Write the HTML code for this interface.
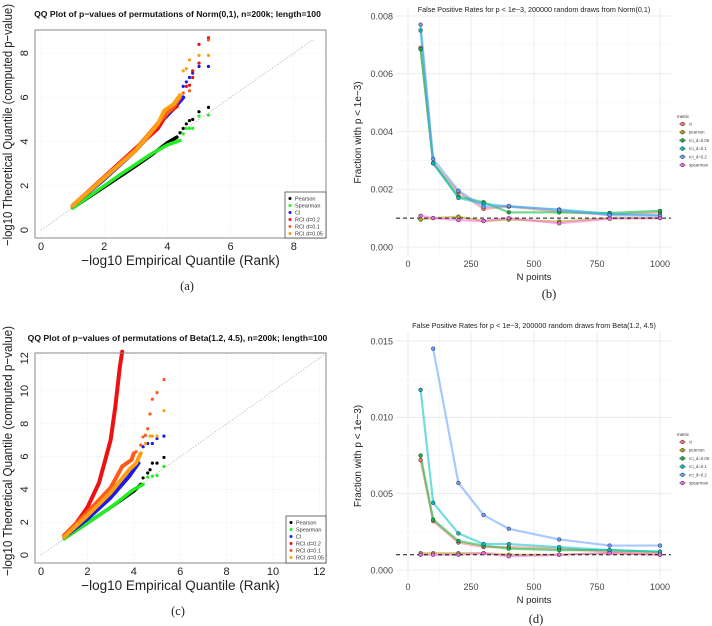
<!DOCTYPE html>
<html><head><meta charset="utf-8"><style>
body{margin:0;background:#fff;width:712px;height:626px;overflow:hidden}
svg{display:block;font-family:"Liberation Sans",sans-serif}
</style></head><body>
<svg id="fig" width="712" height="626" xmlns="http://www.w3.org/2000/svg"></svg>
<script>
// ---- QQ data (panel a) ----
const qqNames = ["Pearson","Spearman","CI","RCI d=0.2","RCI d=0.1","RCI d=0.05"];
const qqColors = ["#000000","#22ee22","#1a1aee","#ee1111","#ff5a1a","#ffa010"];
const aCurves = [
 [[1,1],[2,1.95],[3,2.9],[3.5,3.4],[4,3.95],[4.3,4.2]],
 [[1,1],[2.5,2.5],[3.5,3.45],[4,3.85],[4.4,4.05]],
 [[1,1.1],[2,2.3],[3,3.6],[3.8,4.9],[4.2,5.5],[4.5,6.0]],
 [[1,1.1],[2,2.4],[3,3.7],[3.7,4.6],[4.0,5.3],[4.3,5.6]],
 [[1,1.1],[2,2.38],[3,3.65],[3.8,5.0],[4.2,5.6],[4.4,6.0]],
 [[1,1.1],[2,2.35],[3,3.6],[3.7,4.8],[3.9,5.4],[4.2,5.7],[4.4,6.1]]
];
const aTails = [
 [[4.4,4.4],[4.5,4.6],[4.6,4.8],[4.7,4.95],[4.8,5.0],[5.0,5.35],[5.3,5.55]],
 [[4.5,4.35],[4.6,4.6],[4.7,4.6],[4.8,4.6],[5.0,5.15],[5.3,5.2]],
 [[4.5,6.5],[4.6,6.7],[4.7,6.9],[4.8,7.1],[5.0,7.4],[5.3,7.4]],
 [[4.6,6.5],[4.7,6.55],[4.8,6.9],[4.8,7.2],[5.0,7.55],[5.0,8.4],[5.3,8.7]],
 [[4.5,6.2],[4.7,6.3],[5.3,8.6]],
 [[4.5,7.2],[4.6,7.3],[4.7,7.7],[5.0,7.9],[5.3,7.9]]
];
// ---- QQ data (panel c) ----
const cCurves = [
 [[1,1],[2,1.95],[3,2.9],[3.7,3.6],[4,3.9],[4.3,4.3]],
 [[1,1],[3,2.9],[4,4.0],[4.4,4.3]],
 [[1,1.1],[2,2.2],[3,3.5],[3.8,4.8],[4.2,5.6]],
 [[1,1.2],[1.5,1.9],[2,2.9],[2.5,4.4],[3,7],[3.2,9],[3.4,11.5],[3.5,12.4]],
 [[1,1.2],[2,2.6],[3,4.1],[3.5,5.4],[3.9,5.8],[4.0,6.2]],
 [[1,1.1],[2,2.4],[3,3.8],[3.8,5.2],[4.1,5.6],[4.3,6.2]]
];
const cTails = [
 [[4.4,4.7],[4.6,5.0],[4.7,5.2],[4.8,5.6],[5.0,5.6],[5.3,5.95]],
 [[4.6,4.75],[4.8,4.8],[5.0,4.85],[5.3,5.4]],
 [[4.4,6.6],[4.6,6.8],[4.8,6.8],[5.0,7.1],[5.3,7.25]],
 [],
 [[4.1,6.3],[4.3,6.7],[4.4,7.2],[4.5,7.3],[4.6,7.7],[4.7,8.6],[4.8,9.5],[5.0,9.9],[5.3,10.7]],
 [[4.5,6.8],[4.7,7.25],[4.8,7.25],[5.0,7.25],[5.3,8.8]]
];
// ---- FPR data ----
const nPoints = [50,100,200,300,400,600,800,1000];
const metrics = ["ci","pearson","rci_d=0.05","rci_d=0.1","rci_d=0.2","spearman"];
const mColors = ["#F8766D","#B79F00","#00BA38","#00BFC4","#619CFF","#F564E3"];
const bCi      = [0.0069,0.0029,0.0019,0.00132,0.0014,0.00122,0.00112,0.0012];
const bPearson = [0.00095,0.001,0.00105,0.0009,0.00095,0.00088,0.001,0.001];
const bR05     = [0.00685,0.0029,0.00175,0.00155,0.0012,0.0012,0.00118,0.00125];
const bR1      = [0.0075,0.0029,0.0017,0.0015,0.0014,0.0013,0.00115,0.0011];
const bR2      = [0.0077,0.00305,0.00195,0.0014,0.00142,0.00128,0.0011,0.00108];
const bSpear   = [0.00108,0.001,0.00093,0.0009,0.001,0.00082,0.00098,0.001];
const dCi      = [0.0072,0.0032,0.0018,0.0015,0.0015,0.0014,0.0012,0.0011];
const dPearson = [0.0011,0.0011,0.0011,0.0011,0.001,0.001,0.0011,0.001];
const dR05     = [0.0075,0.0033,0.0019,0.0016,0.0014,0.0013,0.0013,0.0012];
const dR1      = [0.0118,0.0044,0.0024,0.0017,0.0017,0.0015,0.0013,0.0012];
const dR2      = [null,0.0145,0.0057,0.0036,0.0027,0.002,0.0016,0.0016];
const dSpear   = [0.001,0.001,0.001,0.0011,0.0009,0.001,0.0011,0.001];
const bTicksY = [0,0.002,0.004,0.006,0.008];
const bTickLabY = ["0.000","0.002","0.004","0.006","0.008"];
const dTicksY = [0,0.005,0.01,0.015];
const dTickLabY = ["0.000","0.005","0.010","0.015"];
const xTicksN = [0,250,500,750,1000];

const NS="http://www.w3.org/2000/svg";
const svg=document.getElementById('fig');
function el(tag,attrs,parent,text){const e=document.createElementNS(NS,tag);for(const k in attrs)e.setAttribute(k,attrs[k]);if(text!==undefined)e.textContent=text;(parent||svg).appendChild(e);return e;}

function qqPanel(o){
 const g=el('g',{});
 
 
 const X=v=>o.x0+v*o.sx, Y=v=>o.y0-v*o.sy;
 el('rect',{x:o.bx0,y:o.by0,width:o.bx1-o.bx0,height:o.by1-o.by0,fill:'#fff'},g);
 for(let t=0;t<=o.xmax;t+=o.step){
  el('line',{x1:X(t),x2:X(t),y1:o.by0,y2:o.by1,stroke:'#ececec','stroke-width':0.6,'stroke-dasharray':'1,1'},g);
  const tl=el('text',{x:X(t),y:o.by1+12,'font-size':11,'text-anchor':'middle',fill:'#222'},g,String(t));
  
  
 }
 for(let t=0;t<=o.ymax;t+=o.step){
  el('line',{y1:Y(t),y2:Y(t),x1:o.bx0,x2:o.bx1,stroke:'#ececec','stroke-width':0.6,'stroke-dasharray':'1,1'},g);
  const tl=el('text',{x:o.bx0-7,y:Y(t),'font-size':11,'text-anchor':'middle',fill:'#222',transform:`rotate(-90 ${o.bx0-7} ${Y(t)})`},g,String(t));
  
  
 }
 el('line',{x1:X(0),y1:Y(0),x2:X(o.diag),y2:Y(o.diag),stroke:'#bbb','stroke-width':0.8,'stroke-dasharray':'1.5,1.5'},g);
 const drawOrder=o.redFirst?[3,0,1,2,4,5]:[0,1,2,3,4,5];
 drawOrder.forEach(i=>{
  const pts=o.curves[i].map(p=>X(p[0])+','+Y(p[1])).join(' ');
  const pl=el('polyline',{points:pts,fill:'none',stroke:qqColors[i],'stroke-width':i<2?3.5:4,'stroke-linejoin':'round','stroke-linecap':'round'},g);
  
  
  o.tails[i].forEach(p=>{
   const c=el('circle',{cx:X(p[0]),cy:Y(p[1]),r:1.6,fill:qqColors[i]},g);
   
   
  });
 });
 el('rect',{x:o.bx0,y:o.by0,width:o.bx1-o.bx0,height:o.by1-o.by0,fill:'none',stroke:'#888','stroke-width':1},g);
 const t=el('text',{x:(o.bx0+o.bx1)/2-3,y:o.ty,'font-size':8.6,'font-weight':'bold','text-anchor':'middle',fill:'#111'},g,o.title);
 
 
 const xl=el('text',{x:(o.bx0+o.bx1)/2,y:o.by1+27,'font-size':13.5,'text-anchor':'middle',fill:'#222'},g,'\u2212log10 Empirical Quantile (Rank)');
 
 
 const yc=o.yc;
 const yl=el('text',{x:12,y:yc,'font-size':13,'text-anchor':'middle',fill:'#222',textLength:o.ylen,lengthAdjust:'spacingAndGlyphs',transform:`rotate(-90 12 ${yc})`},g,'\u2212log10 Theoretical Quantile (computed p\u2212value)');
 
 
 const lg=el('g',{},g);
 
 
 el('rect',{x:o.lx,y:o.ly,width:o.bx1-o.lx,height:o.by1-o.ly,fill:'#fff',stroke:'#333','stroke-width':0.7},lg);
 qqNames.forEach((n,i)=>{
  const yy=o.ly+6.5+i*7;
  el('circle',{cx:o.lx+5,cy:yy,r:1.5,fill:qqColors[i]},lg);
  const tt=el('text',{x:o.lx+10,y:yy+2,'font-size':5.5,fill:'#333'},lg,n);
  
  
 });
 const cap=el('text',{x:o.capx,y:o.capy,'font-size':12.5,'font-family':'Liberation Serif,serif','text-anchor':'middle',fill:'#222'},g,o.cap);
 
 
}

qqPanel({name:'qq-plot-norm',x0:41,sx:31.6,y0:230,sy:22.1,bx0:35,bx1:326,by0:30,by1:238,xmax:8,ymax:8,step:2,diag:8.6,
 curves:aCurves,tails:aTails,title:'QQ Plot of p\u2212values of permutations of Norm(0,1), n=200k; length=100',ty:17,
 lx:285,ly:192,cap:'(a)',capx:187,capy:290,yc:125,ylen:242});
qqPanel({name:'qq-plot-beta',x0:41,sx:23.2,y0:555,sy:16.4,bx0:35,bx1:326,by0:353,by1:563,xmax:12,ymax:12,step:2,diag:12.2,
 curves:cCurves,tails:cTails,title:'QQ Plot of p\u2212values of permutations of Beta(1.2, 4.5), n=200k; length=100',ty:341,
 lx:286,ly:516,cap:'(c)',capx:178,capy:615,redFirst:true,yc:451,ylen:250});

function fprPanel(o){
 const g=el('g',{});
 
 
 const X=v=>408+v*0.252, Y=v=>o.y0-(v/o.ymax)*(o.y0-o.ytop);
 for(let i=0;i<xTicksN.length-1;i++){const m=(xTicksN[i]+xTicksN[i+1])/2;el('line',{x1:X(m),x2:X(m),y1:o.gy0,y2:o.gy1,stroke:'#f2f2f2','stroke-width':0.5},g);}
 for(let i=0;i<o.ticks.length-1;i++){const m=(o.ticks[i]+o.ticks[i+1])/2;el('line',{y1:Y(m),y2:Y(m),x1:396,x2:671,stroke:'#f2f2f2','stroke-width':0.5},g);}
 xTicksN.forEach(t=>{
  el('line',{x1:X(t),x2:X(t),y1:o.gy0,y2:o.gy1,stroke:'#e6e6e6','stroke-width':0.8},g);
  const tl=el('text',{x:X(t),y:o.gy1+10,'font-size':9,'text-anchor':'middle',fill:'#444'},g,String(t));
  
  
 });
 o.ticks.forEach((t,i)=>{
  el('line',{y1:Y(t),y2:Y(t),x1:396,x2:671,stroke:'#e6e6e6','stroke-width':0.8},g);
  const tl=el('text',{x:393,y:Y(t)+3.3,'font-size':9,'text-anchor':'end',fill:'#444'},g,o.tickLab[i]);
  
  
 });
 o.series.forEach((s,i)=>{
  const pts=[];s.forEach((v,j)=>{if(v!==null)pts.push(X(nPoints[j])+','+Y(v));});
  const pl=el('polyline',{points:pts.join(' '),fill:'none',stroke:mColors[i],'stroke-width':2.2,'stroke-opacity':0.55,'stroke-linejoin':'round'},g);
  
  
 });
 el('line',{x1:396,x2:671,y1:Y(0.001),y2:Y(0.001),stroke:'#111','stroke-width':1,'stroke-dasharray':'4,3'},g);
 o.series.forEach((s,i)=>{
  s.forEach((v,j)=>{if(v===null)return;
   const c=el('circle',{cx:X(nPoints[j]),cy:Y(v),r:1.9,fill:mColors[i],stroke:'#333','stroke-width':0.5},g);
   
   
  });
 });
 const t=el('text',{x:534,y:o.ty,'font-size':7.2,'text-anchor':'middle',fill:'#222'},g,o.title);
 
 
 const xl=el('text',{x:534,y:o.gy1+23,'font-size':9.5,'text-anchor':'middle',fill:'#222'},g,'N points');
 
 
 const yc=(o.gy0+o.gy1)/2;
 const yl=el('text',{x:361,y:yc,'font-size':10,'text-anchor':'middle',fill:'#222',transform:`rotate(-90 361 ${yc})`},g,'Fraction with p < 1e\u22123)');
 
 
 const lg=el('g',{},g);
 
 
 el('text',{x:677,y:o.ly,'font-size':4.5,fill:'#333'},lg,'metric');
 metrics.forEach((m,i)=>{
  const yy=o.ly+6+i*8.2;
  el('line',{x1:679,x2:686,y1:yy,y2:yy,stroke:mColors[i],'stroke-width':2,'stroke-opacity':0.5},lg);
  el('circle',{cx:682.5,cy:yy,r:1.9,fill:mColors[i],stroke:'#333','stroke-width':0.5},lg);
  const tt=el('text',{x:689,y:yy+1.5,'font-size':4.3,fill:'#444'},lg,m);
  
  
 });
 const cap=el('text',{x:o.capx,y:o.capy,'font-size':12.5,'font-family':'Liberation Serif,serif','text-anchor':'middle',fill:'#222'},g,o.cap);
 
 
}
fprPanel({name:'fpr-norm',y0:247,ytop:16,ymax:0.008,gy0:8,gy1:257,ticks:bTicksY,tickLab:bTickLabY,
 series:[bCi,bPearson,bR05,bR1,bR2,bSpear],title:'False Positive Rates for p < 1e\u22123, 200000 random draws from Norm(0,1)',ty:12,
 ly:118,cap:'(b)',capx:549,capy:298});
fprPanel({name:'fpr-beta',y0:570,ytop:341,ymax:0.015,gy0:332,gy1:580,ticks:dTicksY,tickLab:dTickLabY,
 series:[dCi,dPearson,dR05,dR1,dR2,dSpear],title:'False Positive Rates for p < 1e\u22123, 200000 random draws from Beta(1.2, 4.5)',ty:328,
 ly:436,cap:'(d)',capx:536,capy:623});
</script>
</body></html>
